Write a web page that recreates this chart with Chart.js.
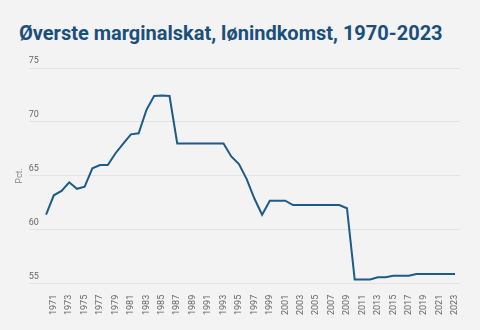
<!DOCTYPE html>
<html lang="da">
<head>
<meta charset="utf-8">
<title>Øverste marginalskat</title>
<script src="https://cdn.jsdelivr.net/npm/chart.js@4/dist/chart.umd.min.js"></script>
<style>
  html, body { margin: 0; padding: 0; background: #f3f3f3; }
  #wrap { position: relative; width: 480px; height: 330px; }
  h1 {
    position: absolute; left: 19px; top: 23px; margin: 0;
    font: bold 20px/20px Roboto, sans-serif; color: #1b4f7b;
  }
  #chart { position: absolute; left: 0; top: 0; }
</style>
</head>
<body>
<div id="wrap">
  <h1>Øverste marginalskat, lønindkomst, 1970-2023</h1>
  <canvas id="chart" width="480" height="330"></canvas>
</div>
<script>
/* Top marginal tax rate on wage income, pct. */
const years = [];
for (let y = 1970; y <= 2023; y++) years.push(y);

const rates = [
  61.4, 63.2, 63.6, 64.4, 63.8, 64.0, 65.7, 66.0, 66.0, 67.1,   // 1970-1979
  68.0, 68.85, 68.95, 71.1, 72.4, 72.45, 72.4, 68.0, 68.0, 68.0, // 1980-1989
  68.0, 68.0, 68.0, 68.0, 66.8, 66.1, 64.7, 62.9, 61.4, 62.7,   // 1990-1999
  62.7, 62.7, 62.3, 62.3, 62.3, 62.3, 62.3, 62.3, 62.3, 62.0,   // 2000-2009
  55.4, 55.4, 55.4, 55.6, 55.6, 55.75, 55.75, 55.75, 55.9, 55.9, // 2010-2019
  55.9, 55.9, 55.9, 55.9                                         // 2020-2023
];

// only odd years get a label on the x axis
const tickYears = years.filter(y => y % 2 === 1);
const yTicks = [55, 60, 65, 70, 75];

const points = years.map((y, i) => ({ x: y, y: rates[i] }));

new Chart(document.getElementById("chart"), {
  type: 'line',
  data: {
    datasets: [{
      data: points,
      borderColor: '#1d5b88',
      borderWidth: 2,
      pointRadius: 0,
      tension: 0,
      fill: false
    }]
  },
  options: {
    responsive: false,
    animation: false,
    layout: { padding: { top: 68, left: 10, right: 20, bottom: 12 } },
    plugins: {
      legend: { display: false },
      tooltip: { enabled: false }
    },
    scales: {
      x: {
        type: 'linear',
        min: 1967.76,
        max: 2023.65,
        afterBuildTicks: (axis) => {
          axis.ticks = tickYears.map(v => ({ value: v }));
        },
        grid: { display: false },
        border: { display: false },
        ticks: {
          autoSkip: false,
          minRotation: 90,
          maxRotation: 90,
          padding: 3,
          color: '#666',
          font: { family: 'Roboto', size: 9 },
          callback: (v) => String(v)
        }
      },
      y: {
        min: 55,
        max: 75,
        afterBuildTicks: (axis) => {
          axis.ticks = yTicks.map(v => ({ value: v }));
        },
        grid: { color: '#e3e3e3', drawTicks: false },
        border: { display: false },
        ticks: {
          mirror: true,
          labelOffset: -7,
          padding: 0,
          color: '#666',
          font: { family: 'Roboto', size: 9 }
        },
        title: {
          display: true,
          text: 'Pct.',
          color: '#888',
          font: { family: 'Roboto', size: 9 },
          padding: { top: 4, bottom: 4 }
        }
      }
    }
  }
});
</script>
</body>
</html>
